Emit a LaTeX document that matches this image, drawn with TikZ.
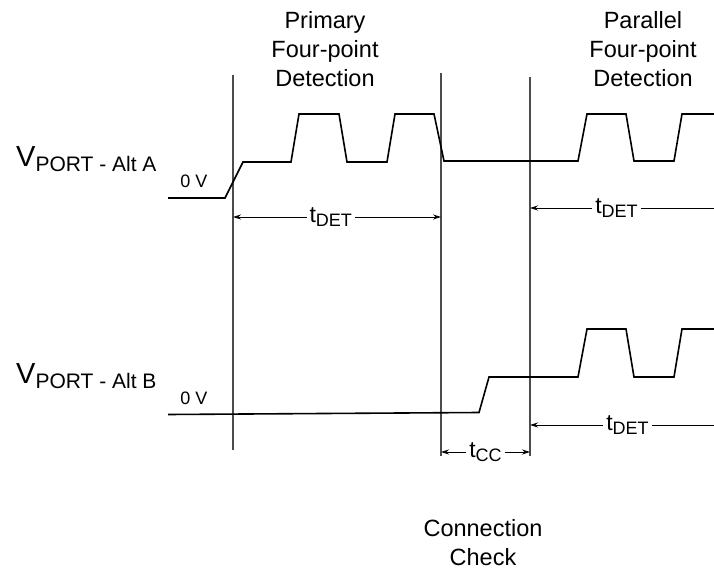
\documentclass[tikz,border=0pt]{standalone}
\usepackage{fontspec}
\setmainfont{Liberation Sans}
\usetikzlibrary{arrows.meta}
\newcommand\tlabel[1]{t\raisebox{-4.5pt}{\fontsize{18}{19}\selectfont #1}}
\newcommand\vlabel[1]{V\raisebox{-5pt}{\fontsize{21}{22}\selectfont PORT - Alt #1}}

\begin{document}
\begin{tikzpicture}[x=1pt, y=-1pt,
    signal/.style={line width=1.6pt, line join=miter},
    marker/.style={draw=black!70, line width=1.2pt},
    span/.style={line width=0.8pt, {Stealth[length=8pt, width=5pt]}-{Stealth[length=8pt, width=5pt]}},
    halfspan/.style={line width=0.8pt, {Stealth[length=8pt, width=5pt]}-},
    tag/.style={fill=white, inner sep=3pt, font=\fontsize{23}{24}\selectfont},
    phase/.style={align=center, anchor=north, font=\fontsize{23.5}{29}\selectfont},
    level/.style={anchor=base, font=\fontsize{18}{19}\selectfont}]
  \useasboundingbox (0,0) rectangle (714,569);
  \coordinate (pri-top) at (233,75);  \coordinate (pri-bot) at (233,450);
  \coordinate (cc-top) at (441,73);   \coordinate (cc-bot) at (441,456);
  \coordinate (par-top) at (530,77);  \coordinate (par-bot) at (530,456);
  \coordinate (edge) at (714,0);

  \node[phase] (primary) at (325,8) {Primary\\Four-point\\Detection};
  \node[phase] (parallel) at (643,8) {Parallel\\Four-point\\Detection};
  \node[phase, inner sep=0pt] (check) at (483,519) {Connection\\Check};

  \node[anchor=base west, inner sep=0pt, font=\fontsize{29}{30}\selectfont] (portA) at (16,167) {\vlabel{A}};
  \node[anchor=base west, inner sep=0pt, font=\fontsize{29}{30}\selectfont] (portB) at (16,383) {\vlabel{B}};
  \node[level] (zeroA) at (194,188) {0 V};
  \node[level] (zeroB) at (194,404) {0 V};

  \draw[marker] (pri-top) -- (pri-bot);
  \draw[marker] (cc-top) -- (cc-bot);
  \draw[marker] (par-top) -- (par-bot);

  \draw[signal] (168,198) -- (225,198) -- (243,162) -- (291,162) -- (299,114) -- (339,114)
    -- (347,162) -- (387,162) -- (395,114) -- (434,114) -- (444,161) -- (578,161)
    -- (587,114) -- (626,114) -- (634,161) -- (674,161) -- (682,114) -- (714,114);
  \draw[signal] (168,414.5) -- (479,412.5) -- (489,377) -- (578,377) -- (587,329) -- (626,329)
    -- (634,377) -- (674,377) -- (682,329) -- (714,329);

  \draw[span] (pri-top |- 0,217) -- node[tag, pos=0.47] (detA) {\tlabel{DET}} (cc-top |- 0,217);
  \draw[halfspan] (par-top |- 0,208) -- node[tag, pos=0.47] (detA2) {\tlabel{DET}} (edge |- 0,208);
  \draw[halfspan] (par-top |- 0,425) -- node[tag, pos=0.53] (detB) {\tlabel{DET}} (edge |- 0,425);
  \draw[span] (cc-top |- 0,452) -- node[tag] (cc) {\tlabel{CC}} (par-top |- 0,452);
\end{tikzpicture}
\end{document}
